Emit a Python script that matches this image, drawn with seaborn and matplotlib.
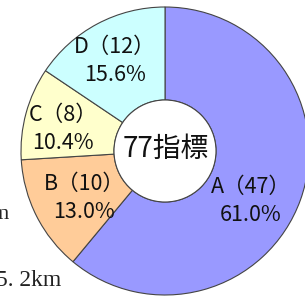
import matplotlib
matplotlib.use("Agg")
import matplotlib.pyplot as plt
import seaborn as sns

categories = ["A", "B", "C", "D"]
counts = [47, 10, 8, 12]
percents = ["61.0%", "13.0%", "10.4%", "15.6%"]
colors = ["#9999FF", "#FFCC99", "#FFFFCC", "#CCFFFF"]
total_label = "77指標"

sns.set_theme(style="white")
plt.rcParams['font.family'] = ['Noto Sans CJK JP', 'DejaVu Sans']

fig = plt.figure(figsize=(3.05, 2.99), dpi=100)
ax = fig.add_axes([0, 0, 1, 1])

labels = ["{}（{}）\n{}".format(c, n, p) for c, n, p in zip(categories, counts, percents)]
wedges, texts = ax.pie(counts, colors=colors, startangle=90, counterclock=False,
                       center=(165, 148), radius=144, labels=labels, labeldistance=0.7,
                       wedgeprops=dict(width=93, edgecolor="#444444", linewidth=0.8),
                       textprops=dict(ha="center", va="center", fontsize=15.5,
                                      color="#111111", linespacing=1.35))
# nudge labels to where the original has them
texts[0].set_position((251, 98))
texts[1].set_position((84, 101))
texts[2].set_position((63, 170))
texts[3].set_position((115, 238))

hole = plt.Circle((165, 148), 51, facecolor="white", edgecolor="#444444", linewidth=0.8, zorder=3)
ax.add_patch(hole)
ax.text(166, 150, total_label, ha="center", va="center", fontsize=20, color="#111111", zorder=4)

# bits of neighbouring figure cut off at the left
ax.text(9, 80, "m", ha="right", va="baseline", fontsize=16, family="Liberation Serif", color="#222222")
ax.text(61, 13, "5. 2km", ha="right", va="baseline", fontsize=17, family="Liberation Serif", color="#222222")

ax.set_xlim(0, 305)
ax.set_ylim(0, 299)
ax.set_aspect("equal")
ax.axis("off")

fig.savefig("out.png", dpi=100)
